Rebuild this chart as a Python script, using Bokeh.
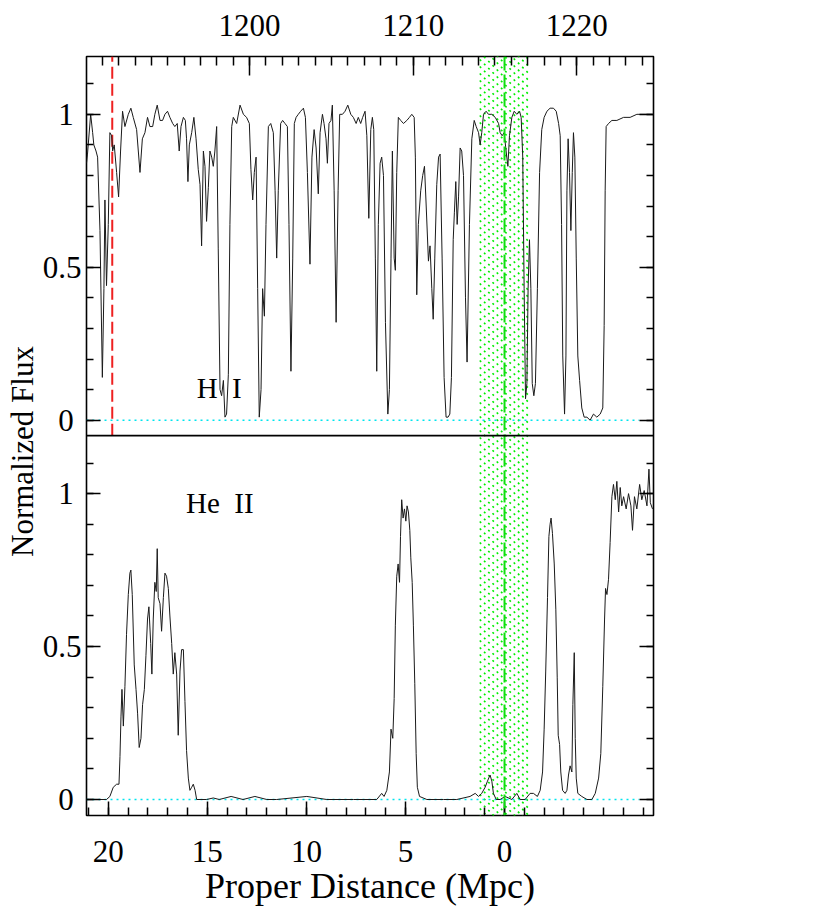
from bokeh.plotting import figure
from bokeh.models import (Range1d, LinearAxis, FixedTicker, CustomJSTickFormatter,
                          Span, Label)
from bokeh.embed import file_html
from bokeh.resources import INLINE

# ---------------- data ----------------
# H I transmitted flux vs proper distance (Mpc)
hi_spectrum = [
    (21.10, 0.84), (21.05, 0.87), (20.89, 1.00), (20.79, 0.94), (20.73, 0.90), (20.62, 0.88),
    (20.54, 0.86), (20.42, 0.62), (20.30, 0.14), (20.22, 0.43), (20.17, 0.72), (20.09, 0.44),
    (20.00, 0.64), (19.92, 0.94), (19.83, 0.93), (19.78, 0.88), (19.70, 0.90), (19.58, 0.81),
    (19.48, 0.73), (19.38, 0.88), (19.28, 1.01), (19.16, 0.96), (18.99, 1.00), (18.86, 1.02),
    (18.74, 0.99), (18.57, 0.95), (18.40, 0.81), (18.28, 0.92), (18.15, 0.94), (18.02, 0.99),
    (17.90, 0.96), (17.76, 0.96), (17.65, 1.00), (17.53, 1.03), (17.39, 0.98), (17.26, 0.98),
    (17.14, 1.00), (17.01, 1.01), (16.89, 0.99), (16.75, 0.97), (16.64, 0.96), (16.52, 0.97),
    (16.42, 0.88), (16.33, 0.96), (16.21, 0.99), (16.11, 0.98), (16.05, 0.92), (15.98, 0.78),
    (15.91, 0.90), (15.79, 0.94), (15.68, 0.99), (15.57, 0.92), (15.46, 0.82), (15.37, 0.77),
    (15.29, 0.57), (15.20, 0.88), (15.12, 0.83), (15.04, 0.65), (14.95, 0.76), (14.87, 0.88),
    (14.78, 0.86), (14.70, 0.83), (14.62, 0.88), (14.53, 0.96), (14.45, 0.56), (14.36, 0.10),
    (14.28, 0.08), (14.19, 0.13), (14.11, 0.01), (14.03, 0.02), (13.94, 0.15), (13.86, 0.64),
    (13.77, 0.96), (13.69, 0.99), (13.52, 0.97), (13.35, 1.03), (13.18, 1.00), (13.02, 0.99),
    (12.88, 0.97), (12.80, 0.82), (12.71, 0.72), (12.63, 0.81), (12.54, 0.86), (12.46, 0.43),
    (12.38, 0.01), (12.29, 0.10), (12.21, 0.43), (12.12, 0.34), (12.04, 0.64), (11.92, 0.96),
    (11.80, 0.97), (11.67, 0.94), (11.58, 0.75), (11.50, 0.53), (11.42, 0.75), (11.30, 0.97),
    (11.20, 0.98), (11.08, 0.97), (10.96, 0.96), (10.88, 0.64), (10.78, 0.16), (10.69, 0.53),
    (10.61, 0.97), (10.52, 0.99), (10.41, 1.00), (10.29, 1.01), (10.15, 1.02), (10.05, 0.99),
    (9.95, 0.81), (9.82, 0.51), (9.72, 0.86), (9.61, 0.95), (9.51, 0.89), (9.40, 0.74),
    (9.31, 0.94), (9.19, 1.00), (9.11, 0.97), (9.01, 0.92), (8.94, 0.84), (8.86, 0.97),
    (8.76, 0.98), (8.69, 1.03), (8.60, 0.75), (8.50, 0.32), (8.40, 0.75), (8.32, 1.00),
    (8.18, 1.00), (8.05, 1.01), (7.91, 1.03), (7.76, 1.00), (7.63, 0.99), (7.49, 0.97),
    (7.38, 0.99), (7.26, 0.97), (7.16, 0.99), (7.04, 1.01), (6.95, 0.93), (6.85, 0.66),
    (6.75, 0.95), (6.67, 0.99), (6.60, 0.95), (6.52, 0.53), (6.45, 0.16), (6.37, 0.64),
    (6.28, 0.84), (6.20, 0.86), (6.11, 0.80), (6.01, 0.32), (5.89, 0.02), (5.81, 0.10),
    (5.73, 0.53), (5.66, 0.88), (5.57, 0.53), (5.51, 0.49), (5.44, 0.81), (5.36, 0.99),
    (5.24, 0.98), (5.10, 0.97), (4.93, 0.98), (4.80, 0.99), (4.68, 1.00), (4.56, 0.99),
    (4.50, 0.86), (4.43, 0.41), (4.35, 0.64), (4.23, 0.75), (4.13, 0.80), (4.04, 0.83),
    (3.96, 0.71), (3.84, 0.52), (3.76, 0.57), (3.67, 0.43), (3.60, 0.33), (3.52, 0.53),
    (3.42, 0.77), (3.33, 0.86), (3.25, 0.87), (3.15, 0.53), (3.05, 0.14), (2.95, 0.01),
    (2.85, 0.01), (2.76, 0.02), (2.68, 0.14), (2.59, 0.59), (2.53, 0.68), (2.46, 0.78),
    (2.39, 0.64), (2.32, 0.73), (2.24, 0.89), (2.16, 0.88), (2.07, 0.80), (1.97, 0.40),
    (1.89, 0.19), (1.77, 0.64), (1.65, 0.92), (1.53, 0.98), (1.43, 0.96), (1.31, 0.94),
    (1.23, 0.90), (1.15, 0.94), (1.06, 1.00), (0.93, 1.01), (0.81, 1.00), (0.64, 1.00),
    (0.47, 0.99), (0.30, 0.97), (0.22, 0.94), (0.12, 0.93), (0.02, 0.94), (-0.08, 0.88),
    (-0.17, 0.83), (-0.25, 0.93), (-0.37, 0.99), (-0.49, 1.01), (-0.62, 1.00), (-0.76, 1.01),
    (-0.84, 0.99), (-0.92, 0.86), (-0.99, 0.43), (-1.06, 0.07), (-1.13, 0.12), (-1.19, 0.43),
    (-1.26, 0.59), (-1.33, 0.43), (-1.40, 0.12), (-1.48, 0.08), (-1.56, 0.12), (-1.66, 0.43),
    (-1.77, 0.81), (-1.88, 0.95), (-2.00, 0.99), (-2.14, 1.01), (-2.30, 1.02), (-2.47, 1.02),
    (-2.61, 1.01), (-2.73, 0.97), (-2.81, 0.93), (-2.88, 0.64), (-2.94, 0.21), (-3.03, 0.02),
    (-3.10, 0.21), (-3.15, 0.75), (-3.21, 0.92), (-3.28, 0.81), (-3.35, 0.62), (-3.42, 0.81),
    (-3.48, 0.94), (-3.55, 0.86), (-3.62, 0.53), (-3.70, 0.21), (-3.79, 0.13), (-3.90, 0.04),
    (-4.02, 0.01), (-4.16, 0.01), (-4.32, 0.00), (-4.49, 0.02), (-4.66, 0.01), (-4.83, 0.02),
    (-4.96, 0.04), (-5.03, 0.31), (-5.08, 0.75), (-5.13, 0.96), (-5.25, 0.97), (-5.42, 0.98),
    (-5.67, 0.98), (-6.01, 0.99), (-6.34, 0.99), (-6.68, 1.00), (-7.02, 1.00), (-7.36, 1.00),
    (-7.47, 1.00),
]

# He II transmitted flux vs proper distance (Mpc)
heii_spectrum = [
    (21.10, 0.00), (20.59, 0.00), (20.09, 0.00), (19.92, 0.01), (19.75, 0.04), (19.58, 0.05),
    (19.46, 0.05), (19.41, 0.14), (19.36, 0.27), (19.31, 0.36), (19.24, 0.24), (19.16, 0.37),
    (19.08, 0.54), (18.99, 0.67), (18.91, 0.74), (18.86, 0.75), (18.79, 0.67), (18.69, 0.44),
    (18.60, 0.36), (18.52, 0.28), (18.44, 0.17), (18.35, 0.20), (18.27, 0.31), (18.18, 0.36),
    (18.10, 0.47), (18.02, 0.59), (17.95, 0.63), (17.86, 0.51), (17.80, 0.41), (17.73, 0.59),
    (17.65, 0.71), (17.58, 0.68), (17.53, 0.82), (17.48, 0.66), (17.39, 0.64), (17.31, 0.55),
    (17.22, 0.66), (17.14, 0.74), (17.06, 0.73), (16.97, 0.69), (16.89, 0.60), (16.80, 0.51),
    (16.72, 0.41), (16.64, 0.48), (16.55, 0.41), (16.47, 0.21), (16.38, 0.42), (16.30, 0.49),
    (16.21, 0.49), (16.13, 0.32), (16.05, 0.16), (15.96, 0.07), (15.88, 0.03), (15.79, 0.04),
    (15.71, 0.05), (15.62, 0.03), (15.54, 0.00), (15.04, 0.00), (14.70, 0.005), (14.40, 0.00),
    (13.80, 0.01), (13.20, 0.00), (12.60, 0.01), (12.00, 0.00), (11.50, 0.00), (9.98, 0.01),
    (8.97, 0.00), (7.63, 0.00), (6.45, 0.00), (6.20, 0.02), (6.08, 0.01), (5.94, 0.03),
    (5.81, 0.09), (5.73, 0.23), (5.64, 0.20), (5.57, 0.33), (5.51, 0.57), (5.44, 0.73),
    (5.37, 0.77), (5.30, 0.71), (5.25, 0.86), (5.19, 0.98), (5.12, 0.92), (5.05, 0.95),
    (4.98, 0.91), (4.92, 0.96), (4.85, 0.94), (4.78, 0.88), (4.73, 0.79), (4.66, 0.71),
    (4.60, 0.57), (4.53, 0.38), (4.46, 0.15), (4.40, 0.04), (4.29, 0.01), (3.92, 0.00),
    (3.08, 0.00), (2.41, 0.00), (1.74, 0.01), (1.48, 0.02), (1.31, 0.01), (1.15, 0.02),
    (0.98, 0.04), (0.86, 0.06), (0.73, 0.08), (0.64, 0.06), (0.56, 0.02), (0.42, 0.00),
    (0.22, 0.00), (-0.03, 0.01), (-0.37, 0.00), (-0.62, 0.02), (-0.79, 0.00), (-1.04, 0.00),
    (-1.29, 0.02), (-1.46, 0.02), (-1.66, 0.01), (-1.80, 0.03), (-1.92, 0.09), (-2.00, 0.23),
    (-2.08, 0.42), (-2.17, 0.66), (-2.24, 0.86), (-2.30, 0.90), (-2.35, 0.92), (-2.42, 0.87),
    (-2.51, 0.77), (-2.59, 0.62), (-2.66, 0.40), (-2.71, 0.21), (-2.78, 0.18), (-2.84, 0.09),
    (-2.93, 0.03), (-3.06, 0.02), (-3.15, 0.03), (-3.23, 0.08), (-3.31, 0.11), (-3.40, 0.09),
    (-3.45, 0.31), (-3.52, 0.48), (-3.57, 0.20), (-3.62, 0.07), (-3.70, 0.02), (-3.90, 0.01),
    (-4.16, 0.00), (-4.41, 0.00), (-4.58, 0.02), (-4.75, 0.07), (-4.86, 0.15), (-4.96, 0.37),
    (-5.05, 0.59), (-5.10, 0.69), (-5.17, 0.67), (-5.25, 0.72), (-5.33, 0.84), (-5.42, 0.99),
    (-5.50, 1.03), (-5.59, 0.98), (-5.67, 1.04), (-5.76, 0.94), (-5.84, 1.02), (-5.92, 0.96),
    (-6.01, 0.99), (-6.14, 0.95), (-6.26, 1.00), (-6.38, 0.96), (-6.46, 0.88), (-6.56, 0.99),
    (-6.68, 0.95), (-6.82, 1.03), (-6.93, 0.98), (-7.05, 1.01), (-7.19, 0.96), (-7.29, 1.08),
    (-7.36, 0.97), (-7.47, 0.95),
]

hi_dist = [d for d, f in hi_spectrum]
hi_flux = [f for d, f in hi_spectrum]
heii_dist = [d for d, f in heii_spectrum]
heii_flux = [f for d, f in heii_spectrum]

dist_ticks = [20, 15, 10, 5, 0]
dist_minor = list(range(-7, 22))
wave_ticks = [1200, 1210, 1220]
wave_minor = list(range(1191, 1225))
flux_ticks = [0, 0.5, 1]

red_line_dist = 19.8          # dashed red marker (H I panel)
source_dist = 0.0             # green dashed marker
band_near, band_far = 1.25, -1.2   # hatched green band
zero_line_from, zero_line_to = 21.1, -6.8

# ---------------- layout constants ----------------
X_LEFT, X_RIGHT = 21.1, -7.52
W_LEFT, W_RIGHT = 1190.03, 1224.69
Y_MIN, Y_MAX = -0.0523, 2.429
OFF = 1.24            # vertical offset of the upper (H I) panel
JUNCTION = 1.1895
FRAME_W, FRAME_H = 567, 759

FONT = "Liberation Serif"
TICK_PX = "31px"

p = figure(frame_width=FRAME_W, frame_height=FRAME_H,
           x_range=Range1d(X_LEFT, X_RIGHT), y_range=Range1d(Y_MIN, Y_MAX),
           x_axis_location=None, y_axis_location=None,
           output_backend="svg", toolbar_location=None,
           min_border_left=86, min_border_top=56, min_border_right=40,
           min_border_bottom=10, background_fill_color="white",
           border_fill_color="white")
p.extra_x_ranges = {"wave": Range1d(W_LEFT, W_RIGHT)}
p.extra_y_ranges = {"top": Range1d(Y_MIN - OFF, Y_MAX - OFF)}
p.xgrid.grid_line_color = None
p.ygrid.grid_line_color = None
p.outline_line_color = "black"
p.outline_line_width = 1.6


def style(ax, major, minor, label_px="34px"):
    ax.major_tick_in = major
    ax.major_tick_out = 0
    ax.minor_tick_in = minor
    ax.minor_tick_out = 0
    ax.axis_line_color = None
    ax.major_tick_line_color = "black"
    ax.minor_tick_line_color = "black"
    ax.major_tick_line_width = 1.5
    ax.minor_tick_line_width = 1.5
    ax.major_label_text_font = FONT
    ax.major_label_text_font_size = TICK_PX
    ax.major_label_text_color = "black"
    ax.axis_label_text_font = FONT
    ax.axis_label_text_font_size = label_px
    ax.axis_label_text_font_style = "normal"
    ax.axis_label_text_color = "black"


y_major = flux_ticks + [t + OFF for t in flux_ticks]
y_minor = [round(i * 0.1, 2) for i in range(12)] + [round(OFF + i * 0.1, 2) for i in range(12)]
yfmt = CustomJSTickFormatter(code="""
const v = tick > 1.2 ? tick - 1.24 : tick;
const r = Math.round(v * 10) / 10;
return r === 0.5 ? "0.5" : r.toString() + "\\u2008";
""")

bottom = LinearAxis(ticker=FixedTicker(ticks=dist_ticks, minor_ticks=dist_minor),
                    axis_label="Proper Distance (Mpc)")
style(bottom, 14, 8, "36px")
bottom.major_label_standoff = 25
bottom.axis_label_standoff = 1
p.add_layout(bottom, "below")

top = LinearAxis(x_range_name="wave",
                 ticker=FixedTicker(ticks=wave_ticks, minor_ticks=wave_minor))
style(top, 19, 9)
top.major_label_standoff = 21
p.add_layout(top, "above")

# trailing no-break spaces push the centred title slightly below the panel junction
left = LinearAxis(ticker=FixedTicker(ticks=y_major, minor_ticks=y_minor), formatter=yfmt,
                  axis_label="Normalized Flux" + "\u00a0" * 4)
style(left, 14, 7, "31px")
left.major_label_standoff = 5
left.axis_label_standoff = 0
p.add_layout(left, "left")

right = LinearAxis(ticker=FixedTicker(ticks=y_major, minor_ticks=y_minor),
                   formatter=CustomJSTickFormatter(code="return '';"))
style(right, 14, 7)
p.add_layout(right, "right")

# hatched band: dotted diagonal lines ("\" direction), clipped by the frame
px_x = FRAME_W / (X_LEFT - X_RIGHT)
px_y = FRAME_H / (Y_MAX - Y_MIN)
drop = (band_near - band_far) * px_x / px_y
step = 7.0 / px_y
n_lines = int((Y_MAX - Y_MIN + drop) / step) + 2
hy0 = [Y_MIN + k * step for k in range(n_lines)]
hy1 = [y - drop for y in hy0]
p.segment(x0=[band_near] * n_lines, x1=[band_far] * n_lines, y0=hy0, y1=hy1,
          line_color="#00ee00", line_width=1.6, line_dash="2 4")
p.add_layout(Span(location=source_dist, dimension="height", line_color="#11dd11",
                  line_width=2, line_dash="14 4"))
p.segment(x0=[red_line_dist], x1=[red_line_dist], y0=[JUNCTION - OFF], y1=[Y_MAX - OFF],
          y_range_name="top", line_color="#ee2020", line_width=2, line_dash="12 5")

# zero levels
p.segment(x0=[zero_line_from], x1=[zero_line_to], y0=[0], y1=[0],
          line_color="#00e5ee", line_width=1.5, line_dash="2 4")
p.segment(x0=[zero_line_from], x1=[zero_line_to], y0=[0], y1=[0], y_range_name="top",
          line_color="#00e5ee", line_width=1.5, line_dash="2 4")

# spectra
p.line(hi_dist, hi_flux, y_range_name="top", line_color="#1a1a1a", line_width=1)
p.line(heii_dist, heii_flux, line_color="#1a1a1a", line_width=1)

# panel divider
p.add_layout(Span(location=JUNCTION, dimension="width", line_color="black", line_width=1.6))

# panel labels
p.add_layout(Label(x=15.54, y=0.105, y_range_name="top", text="H\u00a0\u00a0I",
                   text_font=FONT, text_font_size="29px", text_color="black",
                   text_baseline="alphabetic"))
p.add_layout(Label(x=16.08, y=0.97, text="He\u00a0\u00a0II",
                   text_font=FONT, text_font_size="29px", text_color="black",
                   text_baseline="alphabetic"))

open("out.html", "w").write(file_html(p, INLINE))
